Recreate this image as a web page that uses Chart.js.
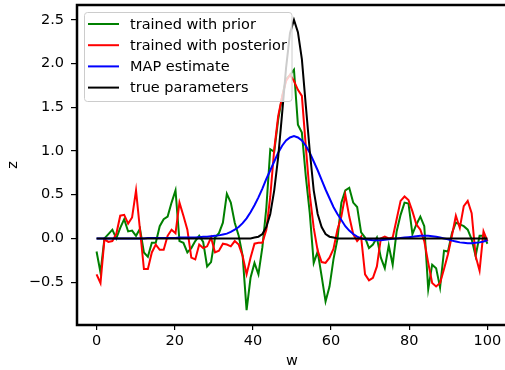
<!DOCTYPE html>
<html>
<head>
<meta charset="utf-8">
<script src="https://cdn.jsdelivr.net/npm/chart.js@4.4.1/dist/chart.umd.min.js"></script>
<style>
    html, body { margin: 0; padding: 0; background: #fff; overflow: hidden; }
    #wrap { width: 512px; height: 370px; position: relative; }
</style>
</head>
<body>
<div id="wrap"><canvas id="chart"></canvas></div>
<script>
// Series values, one per sample (100 samples over w = 0..100)
const priorValues = [
    -0.15, -0.39, 0.00, 0.05, 0.10, 0.00, 0.12, 0.22, 0.08, 0.09,
    0.03, 0.11, -0.16, -0.21, -0.05, -0.05, 0.14, 0.22, 0.25, 0.41,
    0.55, -0.03, -0.05, -0.16, -0.11, -0.03, 0.03, -0.04, -0.32, -0.27,
    0.01, 0.06, 0.18, 0.51, 0.41, 0.18, 0.03, -0.20, -0.82, -0.45,
    -0.28, -0.41, -0.10, 0.35, 1.02, 0.99, 1.36, 1.62, 1.82, 1.87,
    1.93, 1.30, 1.21, 0.71, 0.29, -0.28, -0.15, -0.43, -0.72, -0.55,
    -0.24, -0.01, 0.41, 0.55, 0.58, 0.41, 0.36, 0.07, 0.01, -0.11,
    -0.07, 0.01, -0.22, -0.34, -0.08, -0.30, 0.08, 0.27, 0.41, 0.40,
    0.05, 0.16, 0.25, 0.14, -0.58, -0.30, -0.34, -0.56, -0.14, -0.15,
    0.06, 0.18, 0.16, 0.14, 0.10, -0.01, -0.20, 0.03, 0.03, -0.06
];

const posteriorValues = [
    -0.41, -0.51, -0.01, -0.04, -0.03, 0.05, 0.26, 0.27, 0.17, 0.24,
    0.55, 0.10, -0.35, -0.35, -0.16, -0.07, -0.13, -0.13, 0.03, 0.10,
    0.06, 0.41, 0.26, 0.10, -0.22, -0.24, -0.07, -0.11, -0.09, 0.01,
    -0.16, -0.14, -0.06, -0.07, -0.09, -0.03, -0.07, -0.20, -0.41, -0.22,
    -0.06, -0.05, -0.05, 0.10, 0.48, 1.02, 1.40, 1.62, 1.80, 1.87,
    1.80, 1.70, 1.63, 1.05, 0.50, 0.12, -0.14, -0.27, -0.28, -0.22,
    -0.12, 0.10, 0.25, 0.50, 0.25, 0.05, -0.03, 0.02, -0.41, -0.48,
    -0.45, -0.32, 0.00, 0.02, 0.00, 0.01, 0.22, 0.43, 0.48, 0.44,
    0.31, 0.16, 0.10, -0.03, -0.28, -0.51, -0.55, -0.51, -0.35, -0.18,
    0.03, 0.26, 0.12, 0.37, 0.43, 0.29, -0.20, -0.37, 0.08, -0.03
];

const mapValues = [
    0, 0, 0, 0, 0, 0, 0, 0, 0, 0,
    0, 0, 0, 0.005, 0.005, 0.005, 0.005, 0.005, 0.005, 0.005,
    0.005, 0.01, 0.01, 0.01, 0.01, 0.01, 0.015, 0.02, 0.02, 0.025,
    0.03, 0.035, 0.045, 0.055, 0.075, 0.10, 0.13, 0.175, 0.23, 0.30,
    0.38, 0.47, 0.57, 0.68, 0.78, 0.88, 0.98, 1.06, 1.12, 1.155,
    1.17, 1.155, 1.12, 1.06, 0.98, 0.88, 0.78, 0.67, 0.56, 0.46,
    0.36, 0.28, 0.21, 0.14, 0.09, 0.05, 0.02, 0.00, -0.01, -0.015,
    -0.02, -0.02, -0.02, -0.015, -0.01, -0.005, 0.00, 0.005, 0.01, 0.015,
    0.02, 0.025, 0.03, 0.03, 0.03, 0.025, 0.02, 0.01, 0.00, -0.01,
    -0.025, -0.035, -0.045, -0.05, -0.055, -0.055, -0.05, -0.045, -0.035, -0.02
];

const trueValues = [
    0, 0, 0, 0, 0, 0, 0, 0, 0, 0,
    0, 0, 0, 0, 0, 0, 0, 0, 0, 0,
    0, 0, 0, 0, 0, 0, 0, 0, 0, 0,
    0, 0, 0, 0, 0, 0, 0, 0, 0, 0,
    0.01, 0.02, 0.05, 0.13, 0.28, 0.55, 0.93, 1.43, 1.95, 2.35,
    2.50, 2.36, 2.05, 1.52, 1.00, 0.55, 0.28, 0.13, 0.05, 0.02,
    0.01, 0, 0, 0, 0, 0, 0, 0, 0, 0,
    0, 0, 0, 0, 0, 0, 0, 0, 0, 0,
    0, 0, 0, 0, 0, 0, 0, 0, 0, 0,
    0, 0, 0, 0, 0, 0, 0, 0, 0, 0
];

// Sample grid: 100 evenly spaced points from 0 to 100
const wValues = priorValues.map((_, i) => i * 100 / (priorValues.length - 1));

// Tick labels
const xTicks = [0, 20, 40, 60, 80, 100];
const yTicks = [-0.5, 0.0, 0.5, 1.0, 1.5, 2.0, 2.5];

const SERIES = [
    { label: 'trained with prior', values: priorValues, color: '#008000' },
    { label: 'trained with posterior', values: posteriorValues, color: '#ff0000' },
    { label: 'MAP estimate', values: mapValues, color: '#0000ff' },
    { label: 'true parameters', values: trueValues, color: '#000000' }
];

const FONT = 'DejaVu Sans';

function toPoints(values) {
    return values.map((v, i) => ({ x: wValues[i], y: v }));
}

function formatY(value) {
    const s = Math.abs(value).toFixed(1);
    return value < 0 ? '\u2212' + s : s;
}

// Spines like the matplotlib frame
const framePlugin = {
    id: 'frame',
    afterDraw(chart) {
        const { ctx, chartArea: a } = chart;
        ctx.save();
        ctx.strokeStyle = '#000';
        ctx.lineWidth = 2.5;
        ctx.beginPath();
        ctx.moveTo(a.left, a.bottom);
        ctx.lineTo(a.left, a.top);
        ctx.lineTo(a.right, a.top);
        ctx.lineTo(a.right, a.bottom);
        ctx.closePath();
        ctx.stroke();
        ctx.restore();
    }
};

// Legend box drawn inside the plot area
const legendPlugin = {
    id: 'boxLegend',
    afterDatasetsDraw(chart) {
        const { ctx } = chart;
        const box = { x: 84.5, y: 12.5, w: 207.5, h: 89 };
        ctx.save();
        ctx.beginPath();
        ctx.roundRect(box.x, box.y, box.w, box.h, 3);
        ctx.fillStyle = 'rgba(255,255,255,0.8)';
        ctx.fill();
        ctx.strokeStyle = '#cccccc';
        ctx.lineWidth = 1;
        ctx.stroke();

        ctx.font = `14.5px "${FONT}"`;
        ctx.textBaseline = 'middle';
        ctx.textAlign = 'left';
        SERIES.forEach((s, i) => {
            const y = 24 + i * 21.2;
            ctx.strokeStyle = s.color;
            ctx.lineWidth = 2;
            ctx.beginPath();
            ctx.moveTo(88, y);
            ctx.lineTo(119, y);
            ctx.stroke();
            ctx.fillStyle = '#000';
            ctx.fillText(s.label, 130, y + 1);
        });
        ctx.restore();
    }
};

// Chart Configuration
const config = {
    type: 'line',
    data: {
        datasets: SERIES.map((s, i) => ({
            label: s.label,
            data: toPoints(s.values),
            borderColor: s.color,
            borderWidth: 2,
            pointRadius: 0,
            tension: 0,
            fill: false,
            order: SERIES.length - i
        }))
    },
    options: {
        responsive: true,
        maintainAspectRatio: false,
        animation: false,
        events: [],
        layout: { padding: { top: 5, right: 5, left: 0, bottom: 0 } },
        plugins: {
            legend: { display: false },
            tooltip: { enabled: false }
        },
        scales: {
            x: {
                type: 'linear',
                min: -5,
                max: 105,
                afterBuildTicks: (scale) => {
                    scale.ticks = xTicks.map(v => ({ value: v }));
                },
                afterFit: (scale) => {
                    scale.height = 45;
                    scale.paddingLeft = 0;
                    scale.paddingRight = 0;
                },
                grid: {
                    drawOnChartArea: false,
                    drawTicks: true,
                    tickLength: 5,
                    color: '#000',
                    lineWidth: 1.2
                },
                border: { display: false },
                ticks: {
                    color: '#000',
                    padding: 3,
                    maxRotation: 0,
                    font: { family: FONT, size: 14.5 },
                    callback: (value) => String(value)
                },
                title: {
                    display: true,
                    text: 'w',
                    color: '#000',
                    font: { family: FONT, size: 14.5 },
                    padding: { top: 0, bottom: 0 }
                }
            },
            y: {
                type: 'linear',
                min: -0.99,
                max: 2.67,
                afterBuildTicks: (scale) => {
                    scale.ticks = yTicks.map(v => ({ value: v }));
                },
                afterFit: (scale) => {
                    scale.width = 77;
                    scale.paddingTop = 0;
                    scale.paddingBottom = 0;
                },
                grid: {
                    drawOnChartArea: false,
                    drawTicks: true,
                    tickLength: 6,
                    color: '#000',
                    lineWidth: 1.2
                },
                border: { display: false },
                ticks: {
                    color: '#000',
                    padding: 7,
                    font: { family: FONT, size: 14.5 },
                    callback: (value) => formatY(value)
                },
                title: {
                    display: true,
                    text: 'z',
                    color: '#000',
                    font: { family: FONT, size: 14.5 },
                    padding: { top: 5, bottom: 0 }
                }
            }
        }
    },
    plugins: [legendPlugin, framePlugin]
};

new Chart(document.getElementById('chart'), config);
</script>
</body>
</html>
